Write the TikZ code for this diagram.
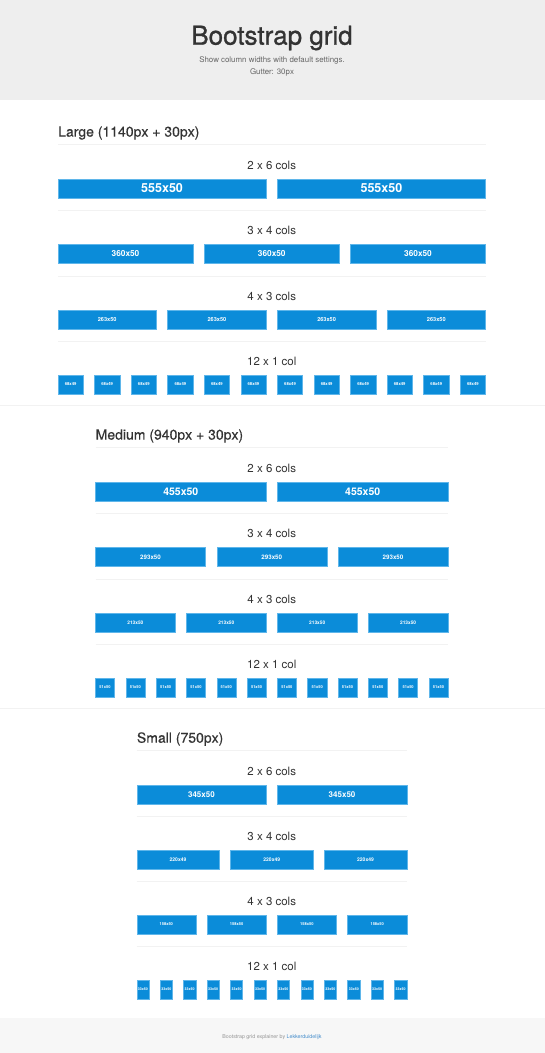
\documentclass[tikz,border=0pt]{standalone}
\usepackage{fontspec}
\setmainfont{TeX Gyre Heros}
\newfontfamily\titlefont[FakeBold=1.0]{TeX Gyre Heros}
\newfontfamily\headfont[FakeBold=0.4]{TeX Gyre Heros}
\definecolor{boxblue}{HTML}{0B8CD9}
\definecolor{boxedge}{HTML}{5FB6EA}
\definecolor{headgray}{HTML}{EEEEEE}
\definecolor{footgray}{HTML}{F7F7F7}
\definecolor{rulegray}{HTML}{F2F2F2}
\definecolor{txtdark}{HTML}{333333}
\definecolor{txtmid}{HTML}{666666}
\definecolor{linkblue}{HTML}{428BCA}
\tikzset{
  colbox/.style={rectangle, fill=boxblue, draw=boxedge, line width=0.4pt, inner sep=0pt, minimum height=18.75pt, text=white, font=\bfseries},
  rowtitle/.style={text=txtdark, inner sep=0pt, anchor=center},
  sechead/.style={text=txtdark, inner sep=0pt, anchor=west, font=\headfont\fontsize{14}{14}\selectfont},
  thinrule/.style={draw=rulegray, line width=0.6pt},
}
\newcommand\gridrow[8]{%
  % #1 prefix, #2 x0, #3 width, #4 n, #5 ytop, #6 label, #7 fontsize, #8 title
  \node[rowtitle, font=\fontsize{11.5}{11.5}\selectfont] (#1-t) at (271.75,#5-14) {#8};
  \pgfmathsetmacro\bw{(#3-(#4-1)*11.25)/#4}
  \foreach \i in {1,...,#4}{
    \pgfmathsetmacro\cx{#2+(\i-1)*(\bw+11.25)+\bw/2}
    \node[colbox, minimum width=\bw pt, font=\bfseries\fontsize{#7}{#7}\selectfont] (#1-\i) at (\cx,#5+9.375) {#6};
  }
}
\begin{document}
\begin{tikzpicture}[x=1pt,y=-1pt]
\useasboundingbox (0,0) rectangle (545,1053);
\fill[white] (0,0) rectangle (545,1053);
% header
\fill[headgray] (0,0) rectangle (545,100);
\node[text=txtdark, inner sep=0pt, font=\titlefont\fontsize{26}{26}\selectfont] (title) at (272,38) {Bootstrap grid};
\node[text=txtmid, inner sep=0pt, font=\fontsize{7.9}{7.9}\selectfont] (sub1) at (272,60.5) {Show column widths with default settings.};
\node[text=txtmid, inner sep=0pt, font=\fontsize{7.9}{7.9}\selectfont] (sub2) at (272,72) {Gutter: 30px};
% footer
\fill[footgray] (0,1018) rectangle (545,1053);
\node[inner sep=0pt, font=\fontsize{5.3}{5.3}\selectfont] (foot) at (272,1037) {\textcolor{txtmid!70}{Bootstrap grid explainer by} \textcolor{linkblue}{Lekkerduidelijk}};
% section separators
\draw[thinrule] (0,405) -- (545,405);
\draw[thinrule] (0,708) -- (545,708);

% ---------- Large ----------
\node[sechead] (lhead) at (58,133) {Large (1140px + 30px)};
\draw[thinrule] (58,144.5) -- (485.5,144.5);
\gridrow{La}{58}{427.5}{2}{179}{555x50}{12.5}{2 x 6 cols}
\draw[thinrule] (58,210.5) -- (485.5,210.5);
\gridrow{Lb}{58}{427.5}{3}{244.5}{360x50}{8.3}{3 x 4 cols}
\draw[thinrule] (58,276) -- (485.5,276);
\gridrow{Lc}{58}{427.5}{4}{310}{263x50}{5.6}{4 x 3 cols}
\draw[thinrule] (58,341) -- (485.5,341);
\gridrow{Ld}{58}{427.5}{12}{375}{68x49}{4.2}{12 x 1 col}

% ---------- Medium ----------
\node[sechead] (mhead) at (95.5,436) {Medium (940px + 30px)};
\draw[thinrule] (95.5,447) -- (448,447);
\gridrow{Ma}{95.5}{352.5}{2}{482}{455x50}{10.5}{2 x 6 cols}
\draw[thinrule] (95.5,513.5) -- (448,513.5);
\gridrow{Mb}{95.5}{352.5}{3}{547.5}{293x50}{6.2}{3 x 4 cols}
\draw[thinrule] (95.5,579) -- (448,579);
\gridrow{Mc}{95.5}{352.5}{4}{613}{213x50}{4.8}{4 x 3 cols}
\draw[thinrule] (95.5,644) -- (448,644);
\gridrow{Md}{95.5}{352.5}{12}{678}{51x50}{4.0}{12 x 1 col}

% ---------- Small ----------
\node[sechead] (shead) at (136.75,739) {Small (750px)};
\draw[thinrule] (136.75,750) -- (406.75,750);
\gridrow{Sa}{136.75}{270}{2}{785}{345x50}{8.0}{2 x 6 cols}
\draw[thinrule] (136.75,816.5) -- (406.75,816.5);
\gridrow{Sb}{136.75}{270}{3}{850}{220x49}{5.0}{3 x 4 cols}
\draw[thinrule] (136.75,881.5) -- (406.75,881.5);
\gridrow{Sc}{136.75}{270}{4}{915}{158x50}{4.0}{4 x 3 cols}
\draw[thinrule] (136.75,946.5) -- (406.75,946.5);
\gridrow{Sd}{136.75}{270}{12}{980}{33x50}{3.6}{12 x 1 col}
\end{tikzpicture}
\end{document}
